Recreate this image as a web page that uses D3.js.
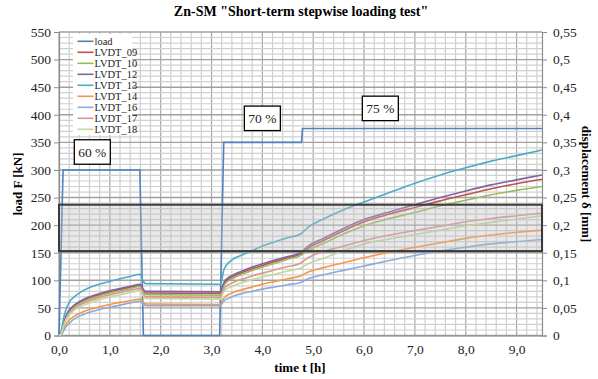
<!DOCTYPE html>
<html>
<head>
<meta charset="utf-8">
<script src="https://cdn.jsdelivr.net/npm/d3@7/dist/d3.min.js"></script>
<style>
  html, body { margin: 0; padding: 0; background: #fff; }
  svg { display: block; }
</style>
</head>
<body>
<svg id="chart" width="598" height="379"></svg>
<script>
// Time axis of the measurements [h]
const times = [0, 0.03, 0.06, 0.1, 0.15, 0.2, 0.3, 0.45, 0.6, 0.8, 1.0, 1.2, 1.4, 1.6, 1.65, 1.7,
  3.18, 3.2, 3.24, 3.28, 3.35, 3.45, 3.6, 3.8, 4.0, 4.25, 4.5, 4.75, 4.9, 5.2, 5.6, 6.0, 6.5,
  7.0, 7.5, 8.0, 8.5, 9.0, 9.5];

// Applied load [kN]
const loadTimes = [0, 0.08, 1.59, 1.66, 3.16, 3.24, 4.77, 4.79, 9.5];
const loadValues = [0, 300, 300, 0, 0, 350, 350, 375, 375];

// LVDT displacements [mm]
const lvdt09 = [0,0.002,0.009,0.024,0.037,0.045,0.054,0.062,0.068,0.074,0.079,0.083,0.087,0.091,0.082,0.077,0.076,0.082,0.092,0.098,0.103,0.108,0.114,0.121,0.127,0.134,0.141,0.147,0.158,0.172,0.190,0.206,0.220,0.232,0.244,0.255,0.266,0.275,0.283];
const lvdt10 = [0,0.002,0.009,0.023,0.035,0.043,0.052,0.060,0.066,0.072,0.077,0.081,0.085,0.089,0.080,0.074,0.073,0.079,0.089,0.095,0.100,0.105,0.111,0.118,0.124,0.131,0.138,0.145,0.154,0.167,0.184,0.199,0.212,0.223,0.235,0.245,0.255,0.263,0.270];
const lvdt12 = [0,0.002,0.010,0.025,0.038,0.046,0.055,0.064,0.070,0.076,0.081,0.085,0.089,0.093,0.085,0.080,0.079,0.085,0.095,0.101,0.106,0.111,0.117,0.124,0.130,0.137,0.143,0.150,0.162,0.176,0.194,0.210,0.224,0.237,0.250,0.262,0.273,0.282,0.291];
const lvdt13 = [0,0.003,0.015,0.035,0.050,0.060,0.070,0.080,0.087,0.093,0.098,0.103,0.107,0.111,0.100,0.094,0.093,0.100,0.118,0.126,0.133,0.140,0.146,0.154,0.162,0.170,0.177,0.184,0.196,0.211,0.228,0.242,0.259,0.276,0.291,0.304,0.316,0.326,0.336];
const lvdt14 = [0,0.001,0.005,0.014,0.022,0.028,0.035,0.042,0.047,0.052,0.056,0.060,0.063,0.066,0.060,0.057,0.056,0.060,0.067,0.071,0.075,0.079,0.083,0.088,0.093,0.098,0.103,0.108,0.115,0.123,0.132,0.141,0.151,0.160,0.168,0.176,0.182,0.187,0.191];
const lvdt16 = [0,0.001,0.003,0.010,0.017,0.022,0.030,0.037,0.042,0.047,0.051,0.055,0.059,0.062,0.057,0.054,0.054,0.057,0.062,0.065,0.068,0.072,0.076,0.080,0.084,0.088,0.092,0.096,0.103,0.110,0.118,0.126,0.136,0.145,0.153,0.160,0.166,0.170,0.174];
const lvdt17 = [0,0.002,0.008,0.021,0.033,0.040,0.049,0.057,0.063,0.069,0.074,0.078,0.082,0.085,0.076,0.070,0.069,0.074,0.083,0.088,0.093,0.097,0.102,0.108,0.113,0.119,0.125,0.131,0.141,0.152,0.162,0.172,0.182,0.190,0.198,0.206,0.212,0.217,0.222];
const lvdt18 = [0,0.001,0.007,0.019,0.030,0.037,0.046,0.054,0.059,0.065,0.070,0.074,0.078,0.081,0.072,0.067,0.066,0.071,0.079,0.083,0.087,0.091,0.096,0.101,0.106,0.111,0.117,0.122,0.130,0.140,0.154,0.166,0.175,0.183,0.191,0.199,0.205,0.211,0.217];

const seriesNames = ["LVDT_09", "LVDT_10", "LVDT_12", "LVDT_13", "LVDT_14", "LVDT_16", "LVDT_17", "LVDT_18"];
const seriesValues = [lvdt09, lvdt10, lvdt12, lvdt13, lvdt14, lvdt16, lvdt17, lvdt18];
const seriesColors = ["#C0504D", "#9BBB59", "#8064A2", "#4BACC6", "#F79646", "#8EAADB", "#DA9694", "#C4D79B"];
const loadColor = "#4F81BD";

// Tick labels
const timeTicks = [0, 1, 2, 3, 4, 5, 6, 7, 8, 9];
const loadTicks = [0, 50, 100, 150, 200, 250, 300, 350, 400, 450, 500, 550];
const dispTicks = [0, 0.05, 0.1, 0.15, 0.2, 0.25, 0.3, 0.35, 0.4, 0.45, 0.5, 0.55];

// Highlighted displacement band [mm]
const bandRange = [0.153, 0.237];

// Load level annotations: [label, time, load]
const stageLabels = [["60 %", 0.655, 333], ["70 %", 4.0, 394], ["75 %", 6.32, 412]];

const FONT = '"Times New Roman", Tinos, serif';
const svg = d3.select("#chart");
const L = 59, R = 542, T = 32, B = 335.5;

const x = d3.scaleLinear().domain([0, 9.5]).range([L, R]);
const yLoad = d3.scaleLinear().domain([0, 550]).range([B, T]);
const yDisp = d3.scaleLinear().domain([0, 0.55]).range([B, T]);

const comma = s => s.replace(".", ",");

// Grid
const grid = svg.append("g");
d3.range(0, 9.5001, 0.2).forEach(t => {
  const major = Math.abs(t - Math.round(t)) < 1e-6;
  grid.append("line")
    .attr("x1", x(t)).attr("x2", x(t)).attr("y1", T).attr("y2", B)
    .attr("stroke", major ? "#a6a6a6" : "#d0d0d0").attr("stroke-width", 1.2);
});
d3.range(0, 551, 10).forEach(v => {
  const major = v % 50 === 0;
  grid.append("line")
    .attr("x1", L).attr("x2", R).attr("y1", yLoad(v)).attr("y2", yLoad(v))
    .attr("stroke", major ? "#a0a0a0" : "#d0d0d0").attr("stroke-width", major ? 1.4 : 1.2);
});

// Axes
const axisColor = "#8c8c8c";
const xAxis = svg.append("g").attr("transform", `translate(0,${B})`)
  .call(d3.axisBottom(x).tickValues(timeTicks).tickSize(0).tickPadding(9)
    .tickFormat(d => comma(d3.format(".1f")(d))));
const lAxis = svg.append("g").attr("transform", `translate(${L},0)`)
  .call(d3.axisLeft(yLoad).tickValues(loadTicks).tickSize(5).tickPadding(3));
const rAxis = svg.append("g").attr("transform", `translate(${R},0)`)
  .call(d3.axisRight(yDisp).tickValues(dispTicks).tickSize(5).tickPadding(6)
    .tickFormat(d => comma(String(+d.toFixed(2)))));
[xAxis, lAxis, rAxis].forEach(a => {
  a.attr("font-family", null).attr("font-size", null);
  a.select(".domain").attr("stroke", axisColor).attr("stroke-width", 1.2);
  a.selectAll(".tick line").attr("stroke", axisColor);
  a.selectAll("text").style("font-family", FONT).style("font-size", "13.5px").attr("fill", "#222");
});

// Load curve
svg.append("path")
  .datum(loadTimes.map((t, i) => [t, loadValues[i]]))
  .attr("fill", "none").attr("stroke", loadColor).attr("stroke-width", 1.6)
  .attr("d", d3.line().x(d => x(d[0])).y(d => yLoad(d[1])));

// Displacement curves
const dispLine = d3.line().x(d => x(d[0])).y(d => yDisp(d[1])).curve(d3.curveMonotoneX);
seriesValues.forEach((vals, i) => {
  svg.append("path")
    .datum(times.map((t, j) => [t, vals[j]]))
    .attr("fill", "none").attr("stroke", seriesColors[i]).attr("stroke-width", 1.6)
    .attr("d", dispLine);
});

// Highlighted band
svg.append("rect")
  .attr("x", x(0)).attr("width", x(9.5) - x(0))
  .attr("y", yDisp(bandRange[1])).attr("height", yDisp(bandRange[0]) - yDisp(bandRange[1]))
  .attr("fill", "rgba(190,190,190,0.35)").attr("stroke", "#3a3a3a").attr("stroke-width", 2);

// Load level boxes
stageLabels.forEach(([txt, t, v]) => {
  const cx = x(t), cy = yLoad(v);
  svg.append("rect").attr("x", cx - 18).attr("y", cy - 12).attr("width", 36).attr("height", 24.5)
    .attr("fill", "#fff").attr("stroke", "#000").attr("stroke-width", 1.3);
  svg.append("text").attr("x", cx).attr("y", cy + 5).attr("text-anchor", "middle")
    .style("font-family", FONT).style("font-size", "13.5px").attr("fill", "#222").text(txt);
});

// Legend
const legend = svg.append("g");
legend.append("rect").attr("x", 73).attr("y", 34).attr("width", 59).attr("height", 101).attr("fill", "#fff");
const legNames = ["load"].concat(seriesNames);
const legColors = [loadColor].concat(seriesColors);
legNames.forEach((n, i) => {
  const yy = 41.3 + i * 11;
  legend.append("line").attr("x1", 77.5).attr("x2", 93.5).attr("y1", yy).attr("y2", yy)
    .attr("stroke", legColors[i]).attr("stroke-width", 1.6);
  legend.append("text").attr("x", 94.5).attr("y", yy + 3.5)
    .style("font-family", FONT).style("font-size", "10.5px")
    .attr("fill", "#222").text(n);
});

// Titles
const bold = (sel) => sel.style("font-family", FONT).style("font-weight", "bold");
bold(svg.append("text").attr("x", 301).attr("y", 16).attr("text-anchor", "middle"))
  .style("font-size", "14px").text('Zn-SM "Short-term stepwise loading test"');
bold(svg.append("text").attr("x", 300).attr("y", 372).attr("text-anchor", "middle"))
  .style("font-size", "13px").text("time t [h]");
bold(svg.append("text").attr("transform", "translate(22,184) rotate(-90)").attr("text-anchor", "middle"))
  .style("font-size", "13px").text("load F [kN]");
bold(svg.append("text").attr("transform", "translate(582,184) rotate(90)").attr("text-anchor", "middle"))
  .style("font-size", "13px").text("displacement δ [mm]");
</script>
</body>
</html>
